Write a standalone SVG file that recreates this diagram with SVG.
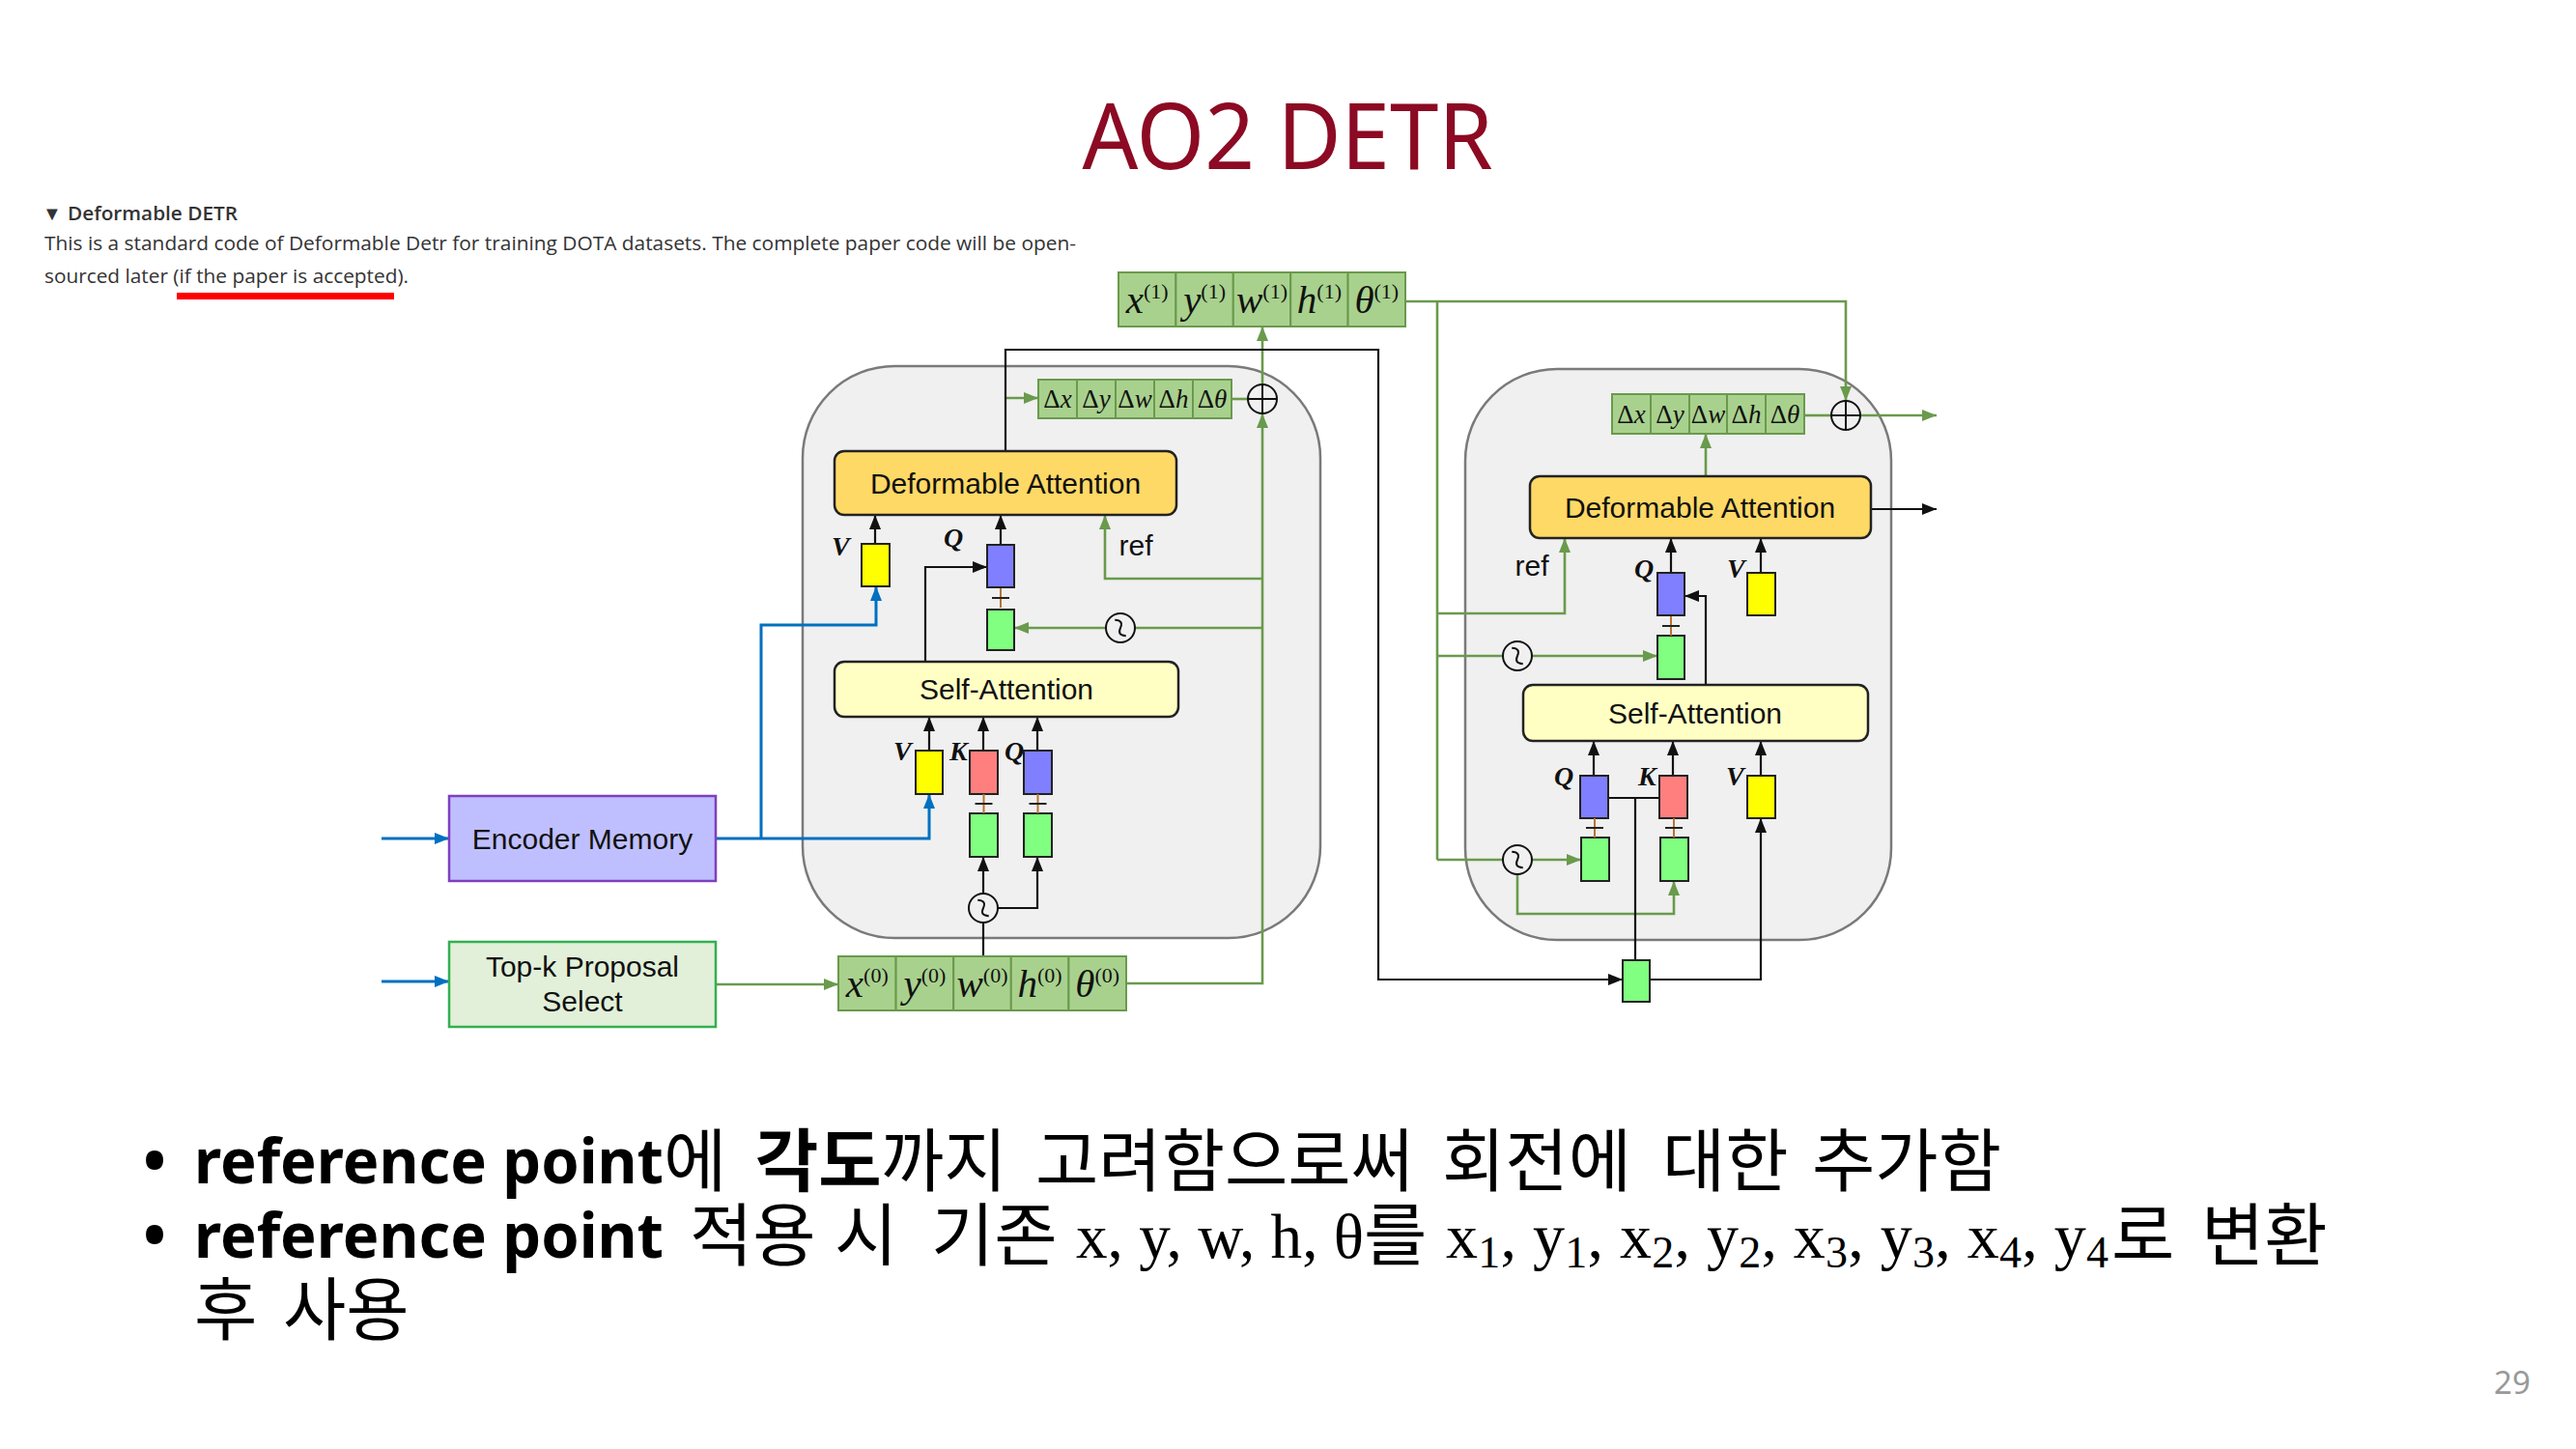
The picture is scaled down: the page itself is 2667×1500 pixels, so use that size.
<svg xmlns="http://www.w3.org/2000/svg" width="2667" height="1500" viewBox="0 0 2667 1500">
<defs>
<style>
.title{font-family:"Noto Sans","Noto Sans CJK KR",sans-serif;font-size:95px;fill:#8C0A23;}
.hdr{font-family:"Open Sans","Noto Sans",sans-serif;font-size:20px;fill:#333;}
.block{fill:#F0F0F0;stroke:#7A7A7A;stroke-width:2.5;}
.lbl{font-family:"Liberation Sans",Arial,sans-serif;font-size:30px;fill:#111;text-anchor:middle;}
.da{fill:#FFD966;stroke:#222;stroke-width:2.5;}
.sa{fill:#FFFFC4;stroke:#222;stroke-width:2.5;}
.tok{stroke:#222;stroke-width:2;}
.v{fill:#FFFF00}.k{fill:#FF7F7F}.q{fill:#7F7FFF}.g{fill:#80FF80}
.cell{fill:#A9D18E;stroke:#6A9A4C;stroke-width:2;}
.ct{text-anchor:middle;fill:#111;}
.mv{font-family:"Liberation Serif","Times New Roman",serif;font-style:italic;}
.up{font-family:"Liberation Serif","Times New Roman",serif;font-style:normal;}
.vkq{font-family:"Liberation Serif","Times New Roman",serif;font-style:italic;font-weight:bold;font-size:28px;fill:#111;}
.gl{fill:none;stroke:#6A9A4C;stroke-width:2.6;}
.bl{fill:none;stroke:#111;stroke-width:2.2;}
.bu{fill:none;stroke:#0070C0;stroke-width:3;}
.op{fill:#F0F0F0;stroke:#111;stroke-width:2;}
.opl{fill:none;stroke:#111;stroke-width:2;}
.bt{font-family:"Noto Sans","Noto Sans CJK KR",sans-serif;font-size:64px;font-weight:bold;fill:#000;}
.ko{font-family:"Noto Sans CJK KR","Noto Sans",sans-serif;font-size:71px;fill:#000;}
.kob{font-family:"Noto Sans CJK KR","Noto Sans",sans-serif;font-size:71px;font-weight:bold;fill:#000;}
.mt{font-family:"Liberation Serif","Times New Roman",serif;font-size:66px;fill:#000;}
</style>
<marker id="ab" viewBox="0 0 15 12" markerWidth="15" markerHeight="12" refX="15" refY="6" orient="auto" markerUnits="userSpaceOnUse"><path d="M0,0 L15,6 L0,12 z" fill="#111"/></marker>
<marker id="ag" viewBox="0 0 15 12" markerWidth="15" markerHeight="12" refX="15" refY="6" orient="auto" markerUnits="userSpaceOnUse"><path d="M0,0 L15,6 L0,12 z" fill="#6A9A4C"/></marker>
<marker id="au" viewBox="0 0 15 12" markerWidth="15" markerHeight="12" refX="15" refY="6" orient="auto" markerUnits="userSpaceOnUse"><path d="M0,0 L15,6 L0,12 z" fill="#0070C0"/></marker>
<!-- sine-encoding operator -->
<g id="sine"><circle r="15" class="op"/><path d="M-10,0 C-6,-5 -3,-5 0,0 S6,5 10,0" transform="rotate(55)" class="opl"/></g>
<!-- element-wise sum -->
<g id="sum"><circle r="15" class="op"/><path d="M-15,0 H15 M0,-15 V15" class="opl"/></g>
<!-- add joint between stacked tokens -->
<g id="plus"><path d="M0,-10 V10" stroke="#B8742E" stroke-width="2"/><path d="M-9,0 H9" stroke="#222" stroke-width="2"/></g>
</defs>

<rect width="2667" height="1500" fill="#FFFFFF"/>

<!-- heading -->
<text class="title" x="1333" y="175" text-anchor="middle" textLength="425" lengthAdjust="spacingAndGlyphs">AO2 DETR</text>

<!-- repository note -->
<g id="note">
<text class="hdr" x="44" y="228" font-size="17">▼</text>
<text class="hdr" x="70" y="228" font-weight="600" textLength="176" lengthAdjust="spacingAndGlyphs">Deformable DETR</text>
<text class="hdr" x="46" y="259" textLength="1068" lengthAdjust="spacingAndGlyphs">This is a standard code of Deformable Detr for training DOTA datasets. The complete paper code will be open-</text>
<text class="hdr" x="46" y="293" textLength="377" lengthAdjust="spacingAndGlyphs">sourced later (if the paper is accepted).</text>
<rect x="183" y="303" width="225" height="7" fill="#FF0000"/>
</g>

<!-- decoder layer containers -->
<g id="layer-1"><rect class="block" x="831" y="379" width="536" height="592" rx="95"/></g>
<g id="layer-2"><rect class="block" x="1517" y="382" width="441" height="591" rx="95"/></g>

<g id="connectors">
<!-- green: box coordinates flow -->
<path class="gl" d="M741,1019 H868" marker-end="url(#ag)"/>
<path class="gl" d="M1166,1018 H1307 V428" marker-end="url(#ag)"/>
<path class="gl" d="M1307,398 V338" marker-end="url(#ag)"/>
<path class="gl" d="M1307,599 H1144 V533" marker-end="url(#ag)"/>
<path class="gl" d="M1307,650 H1175"/>
<path class="gl" d="M1145,650 H1050" marker-end="url(#ag)"/>
<path class="gl" d="M1041,412 H1075" marker-end="url(#ag)"/>
<path class="gl" d="M1275,413 H1292"/>
<path class="gl" d="M1455,312 H1911 V415" marker-end="url(#ag)"/>
<path class="gl" d="M1488,312 V890"/>
<path class="gl" d="M1488,635 H1620 V557" marker-end="url(#ag)"/>
<path class="gl" d="M1488,679 H1556"/>
<path class="gl" d="M1586,679 H1716" marker-end="url(#ag)"/>
<path class="gl" d="M1488,890 H1556"/>
<path class="gl" d="M1586,890 H1637" marker-end="url(#ag)"/>
<path class="gl" d="M1571,905 V946 H1733 V912" marker-end="url(#ag)"/>
<path class="gl" d="M1766,493 V449" marker-end="url(#ag)"/>
<path class="gl" d="M1868,430 H1896"/>
<path class="gl" d="M1926,430 H2005" marker-end="url(#ag)"/>
<!-- black: features -->
<path class="bl" d="M1041,467 V362 H1427 V1014 H1680" marker-end="url(#ab)"/>
<path class="bl" d="M958,685 V587 H1022" marker-end="url(#ab)"/>
<path class="bl" d="M906,563 V533" marker-end="url(#ab)"/>
<path class="bl" d="M1036,565 V533" marker-end="url(#ab)"/>
<path class="bl" d="M962,777 V742" marker-end="url(#ab)"/>
<path class="bl" d="M1018,777 V742" marker-end="url(#ab)"/>
<path class="bl" d="M1074,777 V742" marker-end="url(#ab)"/>
<path class="bl" d="M1018,925 V887" marker-end="url(#ab)"/>
<path class="bl" d="M1033,940 H1074 V887" marker-end="url(#ab)"/>
<path class="bl" d="M1018,955 V990"/>
<path class="bl" d="M1730,593 V557" marker-end="url(#ab)"/>
<path class="bl" d="M1823,593 V557" marker-end="url(#ab)"/>
<path class="bl" d="M1766,709 V617 H1744" marker-end="url(#ab)"/>
<path class="bl" d="M1650,803 V767" marker-end="url(#ab)"/>
<path class="bl" d="M1732,803 V767" marker-end="url(#ab)"/>
<path class="bl" d="M1823,803 V767" marker-end="url(#ab)"/>
<path class="bl" d="M1665,826 H1718 M1693,826 V994"/>
<path class="bl" d="M1708,1014 H1823 V847" marker-end="url(#ab)"/>
<path class="bl" d="M1937,527 H2005" marker-end="url(#ab)"/>
<!-- blue: encoder memory -->
<path class="bu" d="M395,868 H465" marker-end="url(#au)"/>
<path class="bu" d="M395,1016 H465" marker-end="url(#au)"/>
<path class="bu" d="M741,868 H962 V822" marker-end="url(#au)"/>
<path class="bu" d="M788,868 V647 H907 V607" marker-end="url(#au)"/>
</g>

<!-- inputs -->
<g id="encoder-memory">
<rect x="465" y="824" width="276" height="88" fill="#BFBFFF" stroke="#7F3FBF" stroke-width="2.5"/>
<text class="lbl" x="603" y="879" font-size="32">Encoder Memory</text>
</g>
<g id="topk-select">
<rect x="465" y="975" width="276" height="88" fill="#E2F0D9" stroke="#33B050" stroke-width="2.5"/>
<text class="lbl" x="603" y="1011" font-size="32">Top-k Proposal</text>
<text class="lbl" x="603" y="1047" font-size="32">Select</text>
</g>

<!-- box tuples -->
<g id="box-0">
<rect class="cell" x="868" y="990" width="59.6" height="56"/>
<rect class="cell" x="927.6" y="990" width="59.6" height="56"/>
<rect class="cell" x="987.2" y="990" width="59.6" height="56"/>
<rect class="cell" x="1046.8" y="990" width="59.6" height="56"/>
<rect class="cell" x="1106.4" y="990" width="59.6" height="56"/>
<text class="ct" x="897.8" y="1032"><tspan class="mv" font-size="41">x</tspan><tspan class="up" font-size="22" dy="-15">(0)</tspan></text>
<text class="ct" x="957.4" y="1032"><tspan class="mv" font-size="41">y</tspan><tspan class="up" font-size="22" dy="-15">(0)</tspan></text>
<text class="ct" x="1017" y="1032"><tspan class="mv" font-size="41">w</tspan><tspan class="up" font-size="22" dy="-15">(0)</tspan></text>
<text class="ct" x="1076.6" y="1032"><tspan class="mv" font-size="41">h</tspan><tspan class="up" font-size="22" dy="-15">(0)</tspan></text>
<text class="ct" x="1136.2" y="1032"><tspan class="mv" font-size="41">θ</tspan><tspan class="up" font-size="22" dy="-15">(0)</tspan></text>
</g>
<g id="box-1">
<rect class="cell" x="1158" y="282" width="59.4" height="56"/>
<rect class="cell" x="1217.4" y="282" width="59.4" height="56"/>
<rect class="cell" x="1276.8" y="282" width="59.4" height="56"/>
<rect class="cell" x="1336.2" y="282" width="59.4" height="56"/>
<rect class="cell" x="1395.6" y="282" width="59.4" height="56"/>
<text class="ct" x="1187.7" y="324"><tspan class="mv" font-size="41">x</tspan><tspan class="up" font-size="22" dy="-15">(1)</tspan></text>
<text class="ct" x="1247.1" y="324"><tspan class="mv" font-size="41">y</tspan><tspan class="up" font-size="22" dy="-15">(1)</tspan></text>
<text class="ct" x="1306.5" y="324"><tspan class="mv" font-size="41">w</tspan><tspan class="up" font-size="22" dy="-15">(1)</tspan></text>
<text class="ct" x="1365.9" y="324"><tspan class="mv" font-size="41">h</tspan><tspan class="up" font-size="22" dy="-15">(1)</tspan></text>
<text class="ct" x="1425.3" y="324"><tspan class="mv" font-size="41">θ</tspan><tspan class="up" font-size="22" dy="-15">(1)</tspan></text>
</g>
<g id="delta-1">
<rect class="cell" x="1075" y="393" width="40" height="40"/>
<rect class="cell" x="1115" y="393" width="40" height="40"/>
<rect class="cell" x="1155" y="393" width="40" height="40"/>
<rect class="cell" x="1195" y="393" width="40" height="40"/>
<rect class="cell" x="1235" y="393" width="40" height="40"/>
<text class="ct" x="1095" y="422" font-size="27"><tspan class="up">Δ</tspan><tspan class="mv">x</tspan></text>
<text class="ct" x="1135" y="422" font-size="27"><tspan class="up">Δ</tspan><tspan class="mv">y</tspan></text>
<text class="ct" x="1175" y="422" font-size="27"><tspan class="up">Δ</tspan><tspan class="mv">w</tspan></text>
<text class="ct" x="1215" y="422" font-size="27"><tspan class="up">Δ</tspan><tspan class="mv">h</tspan></text>
<text class="ct" x="1255" y="422" font-size="27"><tspan class="up">Δ</tspan><tspan class="mv">θ</tspan></text>
</g>
<g id="delta-2">
<rect class="cell" x="1669" y="408" width="40" height="41"/>
<rect class="cell" x="1709" y="408" width="40" height="41"/>
<rect class="cell" x="1749" y="408" width="39" height="41"/>
<rect class="cell" x="1788" y="408" width="40" height="41"/>
<rect class="cell" x="1828" y="408" width="40" height="41"/>
<text class="ct" x="1689" y="438" font-size="27"><tspan class="up">Δ</tspan><tspan class="mv">x</tspan></text>
<text class="ct" x="1729" y="438" font-size="27"><tspan class="up">Δ</tspan><tspan class="mv">y</tspan></text>
<text class="ct" x="1768.5" y="438" font-size="27"><tspan class="up">Δ</tspan><tspan class="mv">w</tspan></text>
<text class="ct" x="1808" y="438" font-size="27"><tspan class="up">Δ</tspan><tspan class="mv">h</tspan></text>
<text class="ct" x="1848" y="438" font-size="27"><tspan class="up">Δ</tspan><tspan class="mv">θ</tspan></text>
</g>

<!-- layer 1 blocks -->
<g id="deform-attn-1">
<rect class="da" x="864" y="467" width="354" height="66" rx="10"/>
<text class="lbl" x="1041" y="511">Deformable Attention</text>
</g>
<g id="self-attn-1">
<rect class="sa" x="864" y="685" width="356" height="57" rx="10"/>
<text class="lbl" x="1042" y="724">Self-Attention</text>
</g>
<g id="tokens-1">
<rect class="tok v" x="892" y="563" width="29" height="44"/>
<rect class="tok q" x="1022" y="564" width="28" height="44"/>
<rect class="tok g" x="1022" y="631" width="28" height="42"/>
<use href="#plus" x="1036" y="619"/>
<rect class="tok v" x="948" y="777" width="28" height="45"/>
<rect class="tok k" x="1004" y="777" width="29" height="45"/>
<rect class="tok q" x="1060" y="777" width="29" height="45"/>
<rect class="tok g" x="1004" y="842" width="29" height="45"/>
<rect class="tok g" x="1060" y="842" width="29" height="45"/>
<use href="#plus" x="1018.5" y="832"/>
<use href="#plus" x="1074.5" y="832"/>
<text class="vkq" x="861" y="575">V</text>
<text class="vkq" x="977" y="566">Q</text>
<text class="vkq" x="925" y="787">V</text>
<text class="vkq" x="983" y="787">K</text>
<text class="vkq" x="1040" y="787">Q</text>
<text class="lbl" x="1176" y="575" font-size="30">ref</text>
</g>
<g id="ops-1">
<use href="#sum" x="1307" y="413"/>
<use href="#sine" x="1160" y="650"/>
<use href="#sine" x="1018" y="940"/>
</g>

<!-- layer 2 blocks -->
<g id="deform-attn-2">
<rect class="da" x="1584" y="493" width="353" height="64" rx="10"/>
<text class="lbl" x="1760" y="536">Deformable Attention</text>
</g>
<g id="self-attn-2">
<rect class="sa" x="1577" y="709" width="357" height="58" rx="10"/>
<text class="lbl" x="1755" y="749">Self-Attention</text>
</g>
<g id="tokens-2">
<rect class="tok q" x="1716" y="593" width="28" height="44"/>
<rect class="tok g" x="1716" y="658" width="28" height="45"/>
<use href="#plus" x="1730" y="648"/>
<rect class="tok v" x="1809" y="593" width="29" height="44"/>
<rect class="tok q" x="1636" y="803" width="29" height="44"/>
<rect class="tok k" x="1718" y="803" width="29" height="44"/>
<rect class="tok v" x="1809" y="803" width="29" height="44"/>
<rect class="tok g" x="1637" y="867" width="29" height="45"/>
<rect class="tok g" x="1719" y="867" width="29" height="45"/>
<use href="#plus" x="1651" y="857"/>
<use href="#plus" x="1733" y="857"/>
<rect class="tok g" x="1680" y="994" width="28" height="43"/>
<text class="vkq" x="1692" y="598">Q</text>
<text class="vkq" x="1788" y="598">V</text>
<text class="vkq" x="1609" y="813">Q</text>
<text class="vkq" x="1696" y="813">K</text>
<text class="vkq" x="1787" y="813">V</text>
<text class="lbl" x="1586" y="596" font-size="30">ref</text>
</g>
<g id="ops-2">
<use href="#sum" x="1911" y="430"/>
<use href="#sine" x="1571" y="679"/>
<use href="#sine" x="1571" y="890"/>
</g>

<!-- notes -->
<g id="bullets">
<text class="bt" x="148" y="1225" font-weight="normal">•</text>
<text class="bt" x="201" y="1225" textLength="486" lengthAdjust="spacingAndGlyphs">reference point</text>
<text class="ko" x="687" y="1227">에</text>
<text class="kob" x="782" y="1227">각도</text>
<text class="ko" x="912" y="1227">까지</text>
<text class="ko" x="1072" y="1227">고려함으로써</text>
<text class="ko" x="1493" y="1227">회전에</text>
<text class="ko" x="1721" y="1227">대한</text>
<text class="ko" x="1876" y="1227">추가함</text>

<text class="bt" x="148" y="1302" font-weight="normal">•</text>
<text class="bt" x="201" y="1302" textLength="486" lengthAdjust="spacingAndGlyphs">reference point</text>
<text class="ko" x="714" y="1304">적용</text>
<text class="ko" x="864" y="1304">시</text>
<text class="ko" x="964" y="1304">기존</text>
<text class="mt" x="1114" y="1302" textLength="298" lengthAdjust="spacingAndGlyphs">x, y, w, h, θ</text>
<text class="ko" x="1412" y="1304">를</text>
<text class="mt" x="1497" y="1302" textLength="686" lengthAdjust="spacing">x<tspan font-size="46" dy="10">1</tspan><tspan dy="-10">, y</tspan><tspan font-size="46" dy="10">1</tspan><tspan dy="-10">, x</tspan><tspan font-size="46" dy="10">2</tspan><tspan dy="-10">, y</tspan><tspan font-size="46" dy="10">2</tspan><tspan dy="-10">, x</tspan><tspan font-size="46" dy="10">3</tspan><tspan dy="-10">, y</tspan><tspan font-size="46" dy="10">3</tspan><tspan dy="-10">, x</tspan><tspan font-size="46" dy="10">4</tspan><tspan dy="-10">, y</tspan><tspan font-size="46" dy="10">4</tspan></text>
<text class="ko" x="2186" y="1304">로</text>
<text class="ko" x="2279" y="1304">변환</text>

<text class="ko" x="201" y="1381">후</text>
<text class="ko" x="293" y="1381">사용</text>
</g>

<text x="2582" y="1443" font-family="Noto Sans, sans-serif" font-size="33" fill="#999999">29</text>
</svg>
